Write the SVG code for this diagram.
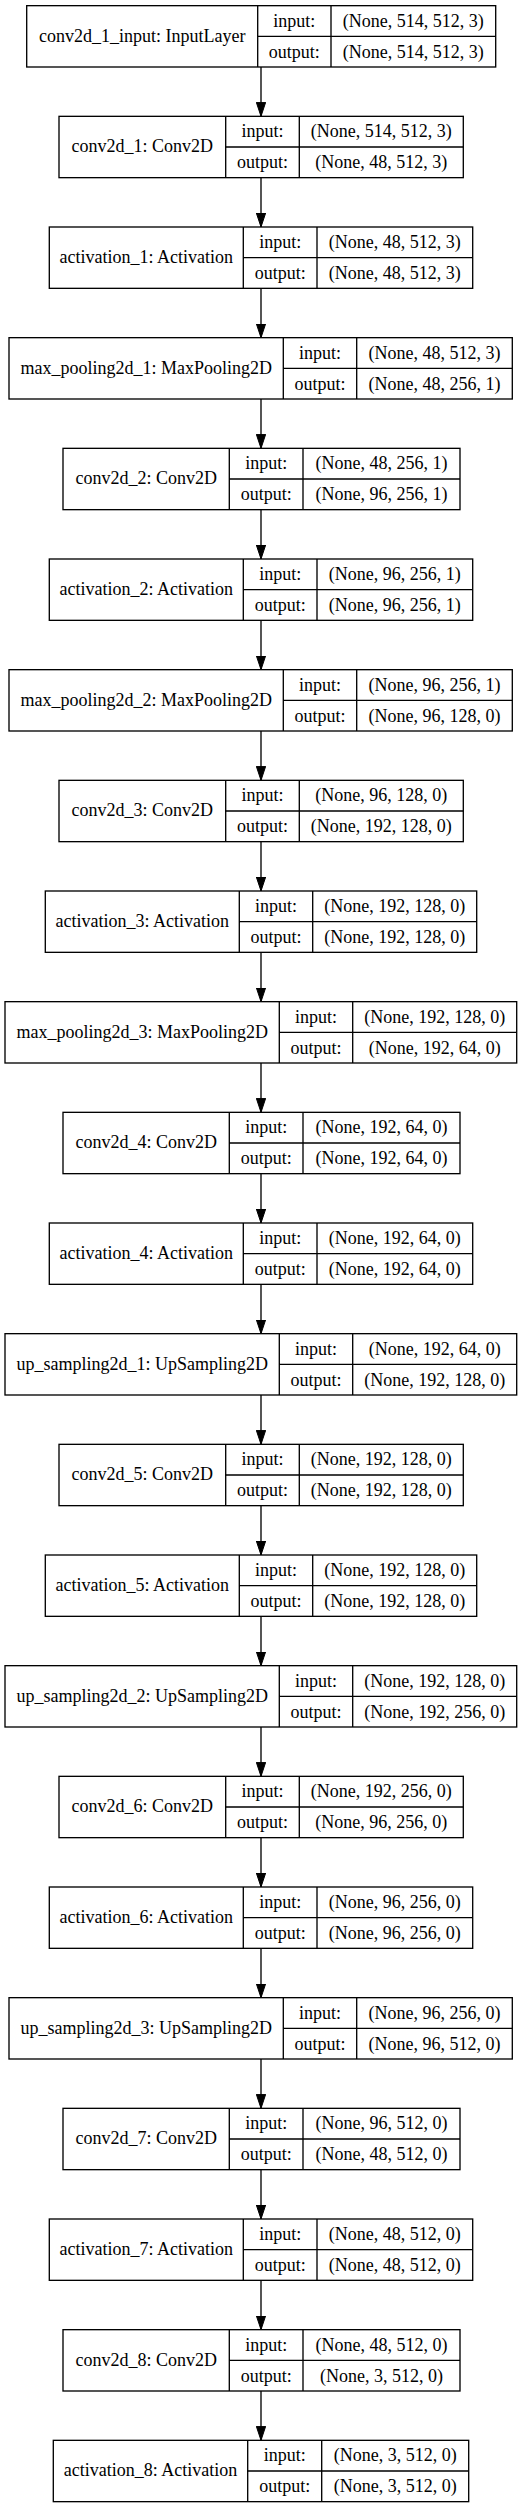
<svg xmlns="http://www.w3.org/2000/svg" width="531" height="2508" viewBox="0 0 531 2508">
<style>
.box{fill:#fff;stroke:#000;stroke-width:1.33}
.ln{stroke:#000;stroke-width:1.33;fill:none}
text{font-family:"Liberation Serif","Times New Roman",serif;font-size:18px;fill:#000;text-anchor:middle}
.edge{stroke:#000;stroke-width:1.33;fill:none;marker-end:url(#arr)}
</style>
<defs>
<marker id="arr" viewBox="0 0 14 10" refX="14" refY="5" markerWidth="14" markerHeight="10" markerUnits="userSpaceOnUse" orient="auto">
<path d="M0,0.33 L14,5 L0,9.67 z" fill="#000" stroke="#000" stroke-width="1"/>
</marker>
</defs>
<rect width="531" height="2508" fill="#fff"/>
<g id="connectors">
<line class="edge" x1="261" y1="67" x2="261" y2="116.33"/>
<line class="edge" x1="261" y1="177.67" x2="261" y2="227"/>
<line class="edge" x1="261" y1="288.33" x2="261" y2="337.67"/>
<line class="edge" x1="261" y1="399" x2="261" y2="448.33"/>
<line class="edge" x1="261" y1="509.67" x2="261" y2="559"/>
<line class="edge" x1="261" y1="620.33" x2="261" y2="669.67"/>
<line class="edge" x1="261" y1="731" x2="261" y2="780.33"/>
<line class="edge" x1="261" y1="841.67" x2="261" y2="891"/>
<line class="edge" x1="261" y1="952.33" x2="261" y2="1001.67"/>
<line class="edge" x1="261" y1="1063" x2="261" y2="1112.33"/>
<line class="edge" x1="261" y1="1173.67" x2="261" y2="1223"/>
<line class="edge" x1="261" y1="1284.33" x2="261" y2="1333.67"/>
<line class="edge" x1="261" y1="1395" x2="261" y2="1444.33"/>
<line class="edge" x1="261" y1="1505.67" x2="261" y2="1555"/>
<line class="edge" x1="261" y1="1616.33" x2="261" y2="1665.67"/>
<line class="edge" x1="261" y1="1727" x2="261" y2="1776.33"/>
<line class="edge" x1="261" y1="1837.67" x2="261" y2="1887"/>
<line class="edge" x1="261" y1="1948.33" x2="261" y2="1997.67"/>
<line class="edge" x1="261" y1="2059" x2="261" y2="2108.33"/>
<line class="edge" x1="261" y1="2169.67" x2="261" y2="2219"/>
<line class="edge" x1="261" y1="2280.33" x2="261" y2="2329.67"/>
<line class="edge" x1="261" y1="2391" x2="261" y2="2440.33"/>
</g>

<g id="conv2d_1_input" transform="translate(0,5.67)">
<rect class="box" x="26.7" y="0" width="469" height="61.33"/>
<path class="ln" d="M257.7,0V61.33M331,0V61.33M257.7,30.67H495.7"/>
<text x="142.2" y="36">conv2d_1_input: InputLayer</text>
<text x="294.35" y="21">input:</text><text x="294.35" y="52">output:</text>
<text x="413.35" y="21">(None, 514, 512, 3)</text><text x="413.35" y="52">(None, 514, 512, 3)</text>
</g>

<g id="conv2d_1" transform="translate(0,116.33)">
<rect class="box" x="59" y="0" width="404.3" height="61.33"/>
<path class="ln" d="M225.7,0V61.33M299.3,0V61.33M225.7,30.67H463.3"/>
<text x="142.35" y="36">conv2d_1: Conv2D</text>
<text x="262.5" y="21">input:</text><text x="262.5" y="52">output:</text>
<text x="381.3" y="21">(None, 514, 512, 3)</text><text x="381.3" y="52">(None, 48, 512, 3)</text>
</g>

<g id="activation_1" transform="translate(0,227)">
<rect class="box" x="49.3" y="0" width="423.4" height="61.33"/>
<path class="ln" d="M243.3,0V61.33M317,0V61.33M243.3,30.67H472.7"/>
<text x="146.3" y="36">activation_1: Activation</text>
<text x="280.15" y="21">input:</text><text x="280.15" y="52">output:</text>
<text x="394.85" y="21">(None, 48, 512, 3)</text><text x="394.85" y="52">(None, 48, 512, 3)</text>
</g>

<g id="max_pooling2d_1" transform="translate(0,337.67)">
<rect class="box" x="9" y="0" width="503.3" height="61.33"/>
<path class="ln" d="M283.3,0V61.33M356.7,0V61.33M283.3,30.67H512.3"/>
<text x="146.15" y="36">max_pooling2d_1: MaxPooling2D</text>
<text x="320" y="21">input:</text><text x="320" y="52">output:</text>
<text x="434.5" y="21">(None, 48, 512, 3)</text><text x="434.5" y="52">(None, 48, 256, 1)</text>
</g>

<g id="conv2d_2" transform="translate(0,448.33)">
<rect class="box" x="63" y="0" width="397" height="61.33"/>
<path class="ln" d="M229.3,0V61.33M303,0V61.33M229.3,30.67H460"/>
<text x="146.15" y="36">conv2d_2: Conv2D</text>
<text x="266.15" y="21">input:</text><text x="266.15" y="52">output:</text>
<text x="381.5" y="21">(None, 48, 256, 1)</text><text x="381.5" y="52">(None, 96, 256, 1)</text>
</g>

<g id="activation_2" transform="translate(0,559)">
<rect class="box" x="49.3" y="0" width="423.4" height="61.33"/>
<path class="ln" d="M243.3,0V61.33M317,0V61.33M243.3,30.67H472.7"/>
<text x="146.3" y="36">activation_2: Activation</text>
<text x="280.15" y="21">input:</text><text x="280.15" y="52">output:</text>
<text x="394.85" y="21">(None, 96, 256, 1)</text><text x="394.85" y="52">(None, 96, 256, 1)</text>
</g>

<g id="max_pooling2d_2" transform="translate(0,669.67)">
<rect class="box" x="9" y="0" width="503.3" height="61.33"/>
<path class="ln" d="M283.3,0V61.33M356.7,0V61.33M283.3,30.67H512.3"/>
<text x="146.15" y="36">max_pooling2d_2: MaxPooling2D</text>
<text x="320" y="21">input:</text><text x="320" y="52">output:</text>
<text x="434.5" y="21">(None, 96, 256, 1)</text><text x="434.5" y="52">(None, 96, 128, 0)</text>
</g>

<g id="conv2d_3" transform="translate(0,780.33)">
<rect class="box" x="59" y="0" width="404.3" height="61.33"/>
<path class="ln" d="M225.7,0V61.33M299.3,0V61.33M225.7,30.67H463.3"/>
<text x="142.35" y="36">conv2d_3: Conv2D</text>
<text x="262.5" y="21">input:</text><text x="262.5" y="52">output:</text>
<text x="381.3" y="21">(None, 96, 128, 0)</text><text x="381.3" y="52">(None, 192, 128, 0)</text>
</g>

<g id="activation_3" transform="translate(0,891)">
<rect class="box" x="45.3" y="0" width="431.4" height="61.33"/>
<path class="ln" d="M239.3,0V61.33M312.7,0V61.33M239.3,30.67H476.7"/>
<text x="142.3" y="36">activation_3: Activation</text>
<text x="276" y="21">input:</text><text x="276" y="52">output:</text>
<text x="394.7" y="21">(None, 192, 128, 0)</text><text x="394.7" y="52">(None, 192, 128, 0)</text>
</g>

<g id="max_pooling2d_3" transform="translate(0,1001.67)">
<rect class="box" x="5" y="0" width="511.7" height="61.33"/>
<path class="ln" d="M279.3,0V61.33M352.7,0V61.33M279.3,30.67H516.7"/>
<text x="142.15" y="36">max_pooling2d_3: MaxPooling2D</text>
<text x="316" y="21">input:</text><text x="316" y="52">output:</text>
<text x="434.7" y="21">(None, 192, 128, 0)</text><text x="434.7" y="52">(None, 192, 64, 0)</text>
</g>

<g id="conv2d_4" transform="translate(0,1112.33)">
<rect class="box" x="63" y="0" width="397" height="61.33"/>
<path class="ln" d="M229.3,0V61.33M303,0V61.33M229.3,30.67H460"/>
<text x="146.15" y="36">conv2d_4: Conv2D</text>
<text x="266.15" y="21">input:</text><text x="266.15" y="52">output:</text>
<text x="381.5" y="21">(None, 192, 64, 0)</text><text x="381.5" y="52">(None, 192, 64, 0)</text>
</g>

<g id="activation_4" transform="translate(0,1223)">
<rect class="box" x="49.3" y="0" width="423.4" height="61.33"/>
<path class="ln" d="M243.3,0V61.33M317,0V61.33M243.3,30.67H472.7"/>
<text x="146.3" y="36">activation_4: Activation</text>
<text x="280.15" y="21">input:</text><text x="280.15" y="52">output:</text>
<text x="394.85" y="21">(None, 192, 64, 0)</text><text x="394.85" y="52">(None, 192, 64, 0)</text>
</g>

<g id="up_sampling2d_1" transform="translate(0,1333.67)">
<rect class="box" x="5" y="0" width="511.7" height="61.33"/>
<path class="ln" d="M279.3,0V61.33M352.7,0V61.33M279.3,30.67H516.7"/>
<text x="142.15" y="36">up_sampling2d_1: UpSampling2D</text>
<text x="316" y="21">input:</text><text x="316" y="52">output:</text>
<text x="434.7" y="21">(None, 192, 64, 0)</text><text x="434.7" y="52">(None, 192, 128, 0)</text>
</g>

<g id="conv2d_5" transform="translate(0,1444.33)">
<rect class="box" x="59" y="0" width="404.3" height="61.33"/>
<path class="ln" d="M225.7,0V61.33M299.3,0V61.33M225.7,30.67H463.3"/>
<text x="142.35" y="36">conv2d_5: Conv2D</text>
<text x="262.5" y="21">input:</text><text x="262.5" y="52">output:</text>
<text x="381.3" y="21">(None, 192, 128, 0)</text><text x="381.3" y="52">(None, 192, 128, 0)</text>
</g>

<g id="activation_5" transform="translate(0,1555)">
<rect class="box" x="45.3" y="0" width="431.4" height="61.33"/>
<path class="ln" d="M239.3,0V61.33M312.7,0V61.33M239.3,30.67H476.7"/>
<text x="142.3" y="36">activation_5: Activation</text>
<text x="276" y="21">input:</text><text x="276" y="52">output:</text>
<text x="394.7" y="21">(None, 192, 128, 0)</text><text x="394.7" y="52">(None, 192, 128, 0)</text>
</g>

<g id="up_sampling2d_2" transform="translate(0,1665.67)">
<rect class="box" x="5" y="0" width="511.7" height="61.33"/>
<path class="ln" d="M279.3,0V61.33M352.7,0V61.33M279.3,30.67H516.7"/>
<text x="142.15" y="36">up_sampling2d_2: UpSampling2D</text>
<text x="316" y="21">input:</text><text x="316" y="52">output:</text>
<text x="434.7" y="21">(None, 192, 128, 0)</text><text x="434.7" y="52">(None, 192, 256, 0)</text>
</g>

<g id="conv2d_6" transform="translate(0,1776.33)">
<rect class="box" x="59" y="0" width="404.3" height="61.33"/>
<path class="ln" d="M225.7,0V61.33M299.3,0V61.33M225.7,30.67H463.3"/>
<text x="142.35" y="36">conv2d_6: Conv2D</text>
<text x="262.5" y="21">input:</text><text x="262.5" y="52">output:</text>
<text x="381.3" y="21">(None, 192, 256, 0)</text><text x="381.3" y="52">(None, 96, 256, 0)</text>
</g>

<g id="activation_6" transform="translate(0,1887)">
<rect class="box" x="49.3" y="0" width="423.4" height="61.33"/>
<path class="ln" d="M243.3,0V61.33M317,0V61.33M243.3,30.67H472.7"/>
<text x="146.3" y="36">activation_6: Activation</text>
<text x="280.15" y="21">input:</text><text x="280.15" y="52">output:</text>
<text x="394.85" y="21">(None, 96, 256, 0)</text><text x="394.85" y="52">(None, 96, 256, 0)</text>
</g>

<g id="up_sampling2d_3" transform="translate(0,1997.67)">
<rect class="box" x="9" y="0" width="503.3" height="61.33"/>
<path class="ln" d="M283.3,0V61.33M356.7,0V61.33M283.3,30.67H512.3"/>
<text x="146.15" y="36">up_sampling2d_3: UpSampling2D</text>
<text x="320" y="21">input:</text><text x="320" y="52">output:</text>
<text x="434.5" y="21">(None, 96, 256, 0)</text><text x="434.5" y="52">(None, 96, 512, 0)</text>
</g>

<g id="conv2d_7" transform="translate(0,2108.33)">
<rect class="box" x="63" y="0" width="397" height="61.33"/>
<path class="ln" d="M229.3,0V61.33M303,0V61.33M229.3,30.67H460"/>
<text x="146.15" y="36">conv2d_7: Conv2D</text>
<text x="266.15" y="21">input:</text><text x="266.15" y="52">output:</text>
<text x="381.5" y="21">(None, 96, 512, 0)</text><text x="381.5" y="52">(None, 48, 512, 0)</text>
</g>

<g id="activation_7" transform="translate(0,2219)">
<rect class="box" x="49.3" y="0" width="423.4" height="61.33"/>
<path class="ln" d="M243.3,0V61.33M317,0V61.33M243.3,30.67H472.7"/>
<text x="146.3" y="36">activation_7: Activation</text>
<text x="280.15" y="21">input:</text><text x="280.15" y="52">output:</text>
<text x="394.85" y="21">(None, 48, 512, 0)</text><text x="394.85" y="52">(None, 48, 512, 0)</text>
</g>

<g id="conv2d_8" transform="translate(0,2329.67)">
<rect class="box" x="63" y="0" width="397" height="61.33"/>
<path class="ln" d="M229.3,0V61.33M303,0V61.33M229.3,30.67H460"/>
<text x="146.15" y="36">conv2d_8: Conv2D</text>
<text x="266.15" y="21">input:</text><text x="266.15" y="52">output:</text>
<text x="381.5" y="21">(None, 48, 512, 0)</text><text x="381.5" y="52">(None, 3, 512, 0)</text>
</g>

<g id="activation_8" transform="translate(0,2440.33)">
<rect class="box" x="53.3" y="0" width="415.4" height="61.33"/>
<path class="ln" d="M247.7,0V61.33M321.7,0V61.33M247.7,30.67H468.7"/>
<text x="150.5" y="36">activation_8: Activation</text>
<text x="284.7" y="21">input:</text><text x="284.7" y="52">output:</text>
<text x="395.2" y="21">(None, 3, 512, 0)</text><text x="395.2" y="52">(None, 3, 512, 0)</text>
</g>
</svg>
